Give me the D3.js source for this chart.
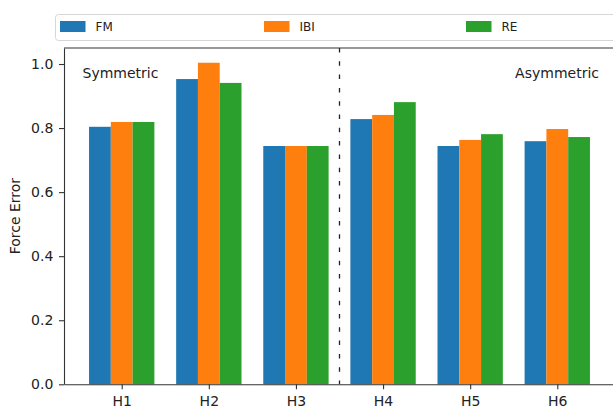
<!DOCTYPE html>
<html>
<head>
<meta charset="utf-8">
<script src="https://cdn.jsdelivr.net/npm/d3@7"></script>
<style>
  body { margin: 0; background: #fff; }
  svg { display: block; font-family: "DejaVu Sans", sans-serif; }
</style>
</head>
<body>
<div id="chart"></div>
<script>
// 資料
const hands = ["H1", "H2", "H3", "H4", "H5", "H6"];
const methods = ["FM", "IBI", "RE"];
const fmValues = [0.804, 0.953, 0.744, 0.828, 0.744, 0.759];
const ibiValues = [0.819, 1.004, 0.744, 0.841, 0.763, 0.797];
const reValues = [0.819, 0.941, 0.744, 0.881, 0.781, 0.772];
const yTicks = [0.0, 0.2, 0.4, 0.6, 0.8, 1.0];
const groupNames = ["Symmetric", "Asymmetric"];

const colors = ["#1f77b4", "#ff7f0e", "#2ca02c"];
const seriesValues = [fmValues, ibiValues, reValues];
const barW = 0.25;

const width = 613, height = 406;
const margin = { top: 48, right: -2, bottom: 22, left: 64 };

const svg = d3.select("#chart").append("svg")
  .attr("width", width)
  .attr("height", height);

// x 軸用數值位置 (像 matplotlib 一樣)
const x = d3.scaleLinear()
  .domain([-0.6625, hands.length - 1 + 0.6625])
  .range([margin.left, width - margin.right]);

const y = d3.scaleLinear()
  .domain([0, 1.05])
  .range([384.3, margin.top]);

// 長條
methods.forEach((m, j) => {
  svg.append("g")
    .attr("fill", colors[j])
    .selectAll("rect")
    .data(seriesValues[j])
    .join("rect")
    .attr("x", (d, i) => x(i + (j - 1) * barW - barW / 2))
    .attr("y", d => y(d))
    .attr("width", x(barW) - x(0))
    .attr("height", d => y(0) - y(d));
});

// 分隔虛線
svg.append("line")
  .attr("x1", x(2.5)).attr("x2", x(2.5))
  .attr("y1", y(1.05)).attr("y2", y(0))
  .attr("stroke", "#222")
  .attr("stroke-width", 1.3)
  .attr("stroke-dasharray", "4.5,8.8");

// 文字
svg.append("text")
  .attr("x", 82.5).attr("y", 77.5)
  .attr("font-size", 14).attr("fill", "#222")
  .text(groupNames[0]);
svg.append("text")
  .attr("x", 599).attr("y", 77.5)
  .attr("text-anchor", "end")
  .attr("font-size", 14).attr("fill", "#222")
  .text(groupNames[1]);

// 座標軸
const xAxis = svg.append("g")
  .attr("transform", `translate(0,${y(0)})`)
  .call(d3.axisBottom(x).tickValues(d3.range(hands.length))
    .tickFormat(i => hands[i]).tickSizeInner(5).tickSizeOuter(0).tickPadding(7));

const yAxis = svg.append("g")
  .attr("transform", `translate(${margin.left},0)`)
  .call(d3.axisLeft(y).tickValues(yTicks).tickFormat(d3.format(".1f"))
    .tickSizeInner(5).tickSizeOuter(0).tickPadding(5.7));

[xAxis, yAxis].forEach(g => {
  g.selectAll("text").attr("font-size", 14).attr("font-family", "DejaVu Sans").attr("fill", "#222");
  g.selectAll("line").attr("stroke", "#333").attr("stroke-width", 1.1);
  g.select(".domain").attr("stroke", "#333").attr("stroke-width", 1.1);
});

// 上方邊框
svg.append("line")
  .attr("x1", margin.left).attr("x2", width)
  .attr("y1", y(1.05)).attr("y2", y(1.05))
  .attr("stroke", "#333").attr("stroke-width", 1.1);

// y 軸標題
svg.append("text")
  .attr("transform", `translate(20,${(y(0) + y(1.05)) / 2}) rotate(-90)`)
  .attr("text-anchor", "middle")
  .attr("font-size", 14).attr("fill", "#222")
  .text("Force Error");

// 圖例
const legend = svg.append("g");
legend.append("rect")
  .attr("x", 55.5).attr("y", 14.5)
  .attr("width", 580).attr("height", 26)
  .attr("rx", 3)
  .attr("fill", "#fff")
  .attr("stroke", "#d6d6d6");

const legendX = [60, 264, 466];
const item = legend.selectAll("g.item")
  .data(methods)
  .join("g")
  .attr("class", "item")
  .attr("transform", (d, i) => `translate(${legendX[i]},0)`);
item.append("rect")
  .attr("x", 0).attr("y", 21)
  .attr("width", 25.5).attr("height", 11)
  .attr("fill", (d, i) => colors[i]);
item.append("text")
  .attr("x", 35.5).attr("y", 31)
  .attr("font-size", 12).attr("fill", "#222")
  .text(d => d);
</script>
</body>
</html>
